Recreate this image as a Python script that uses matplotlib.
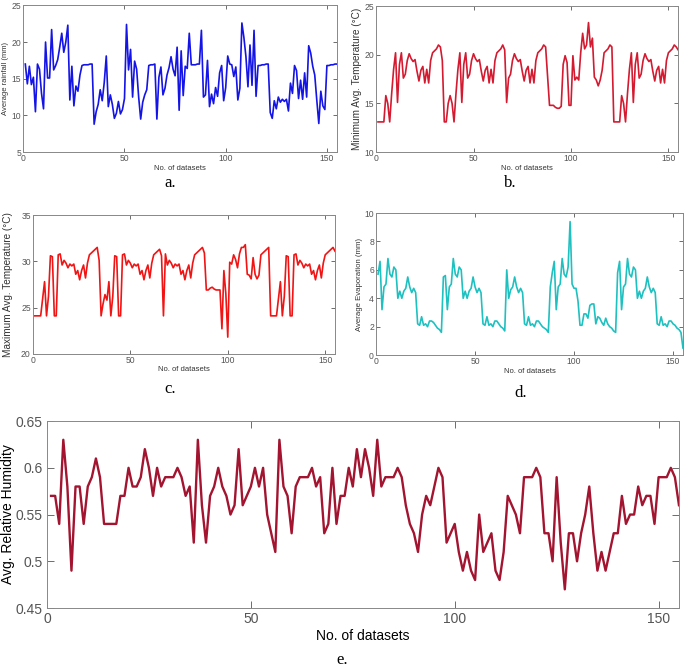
import numpy as np
import matplotlib
matplotlib.use("Agg")
import matplotlib.pyplot as plt
from matplotlib.ticker import FormatStrFormatter

plt.rcParams['font.family'] = ['Liberation Sans', 'DejaVu Sans']

rainfall = [17, 14.3, 16.7, 14.2, 15.2, 10.5, 17, 16.3, 13, 10.9,
            20, 15.1, 15.1, 21.7, 16.2, 16.8, 17.6, 19.3, 21.2, 18.6,
            20, 22.3, 12.1, 16.7, 11.3, 14, 13.3, 15.5, 16.8, 16.9,
            16.9, 16.9, 17, 17, 8.8, 10.5, 11.5, 13.5, 12, 14.5,
            18.1, 11.2, 12.8, 11.5, 9.6, 10.3, 11.9, 10.2, 10.8, 12.3,
            22.4, 16.2, 19, 12.5, 17.4, 16.3, 12.5, 9.5, 11.8, 12.8,
            13.5, 16.8, 16.9, 16.9, 17, 9.5, 15.2, 16.6, 12.8, 13.7,
            15.5, 16.5, 18, 16.3, 15.4, 19.3, 10.7, 18.8, 12.7, 16.7,
            16.4, 21.2, 16.9, 16.9, 16.9, 17, 17, 21.6, 12.5, 12.8,
            17.5, 11.2, 12.9, 11.6, 13.8, 12.6, 15.8, 16.8, 12, 13.8,
            18.1, 17, 16.9, 15.3, 16.6, 12.1, 13.7, 22.6, 20.6, 18,
            13.9, 19.6, 14.1, 21.6, 12.6, 16.8, 16.8, 16.9, 16.9, 17,
            17, 10.4, 9.6, 12, 10.9, 12.5, 11.8, 12.2, 11.9, 12.2,
            10.6, 14.4, 13, 16.8, 16.1, 12.3, 14.8, 12.2, 15.8, 12.5,
            19.5, 18.5, 16.7, 15.5, 12.1, 8.9, 13.3, 11.3, 10.8, 16.8,
            16.8, 16.9, 16.9, 17, 17]

min_temp = [13.1, 13.1, 13.1, 13.1, 15.8, 15, 13.1, 16, 18.5, 20.2,
            15.1, 19, 20.2, 17.6, 18, 19.4, 20.1, 19.6, 19.3, 19.5,
            18.3, 17.3, 18.4, 18.8, 17.1, 18.5, 17.1, 19.4, 20.2, 20.4,
            20.6, 21, 20.8, 19.4, 13.1, 13.1, 15, 15.8, 15, 13.1,
            16, 18.5, 20.2, 15.1, 19, 20.2, 17.6, 18, 19.4, 20.1,
            19.6, 19.3, 19.5, 18.3, 17.3, 18.4, 18.8, 17.1, 18.5, 17.1,
            19.4, 20.2, 20.4, 20.6, 21, 20.5, 15.1, 17.6, 18, 19.4,
            20.1, 19.6, 19.3, 19.5, 18.3, 17.3, 18.4, 18.8, 17.1, 18.5,
            17.1, 19.4, 20.2, 20.4, 20.6, 21, 20.8, 17.8, 14.8, 14.8,
            14.8, 14.6, 14.5, 14.5, 14.7, 19, 19.9, 19.2, 14.8, 14.8,
            19.9, 17.4, 17.7, 17.4, 20.2, 22.2, 20.6, 21, 23.3, 20.8,
            21.7, 17.7, 17.4, 16.8, 17.4, 18.4, 20.2, 20.4, 20.6, 21,
            20.8, 13.1, 13.1, 13.1, 13.1, 15.8, 15, 13.1, 16, 18.5,
            20.2, 15.1, 19, 20.2, 17.6, 18, 19.4, 20.1, 19.6, 19.3,
            19.5, 18.3, 17.3, 18.4, 18.8, 17.1, 18.5, 17.1, 19.4, 20.2,
            20.4, 20.6, 21, 20.8, 20.5]

max_temp = [24.1, 24.1, 24.1, 24.1, 26, 27.8, 24.1, 26.2, 30.6, 30.5,
            24.1, 24.1, 30.7, 30.8, 29.6, 30.1, 29.8, 29.3, 29.7, 29.5,
            29.7, 28.6, 29, 28, 29, 29.6, 28.2, 29.8, 30.7, 30.9,
            31.1, 31.3, 31.5, 30.1, 24.1, 25.4, 26.4, 25.8, 27.8, 24.1,
            26.2, 30.6, 30.5, 24.1, 24.1, 30.7, 30.8, 29.6, 30.1, 29.8,
            29.3, 29.7, 29.5, 29.7, 28.6, 29, 28, 29, 29.6, 28.2,
            29.8, 30.7, 30.9, 31.1, 31.3, 30.6, 24.1, 30.8, 29.6, 30.1,
            29.8, 29.3, 29.7, 29.5, 29.7, 28.6, 29, 28, 29, 29.6,
            28.2, 29.8, 30.7, 30.9, 31.1, 31.3, 31.5, 30.9, 26.9, 26.9,
            27.1, 27.2, 27, 26.9, 26.9, 26.9, 22.7, 29, 26.5, 21.8,
            29.9, 29.7, 30.7, 30.2, 29.3, 30.8, 31.5, 31.5, 31.8, 28.6,
            28.5, 28.1, 30.4, 28.6, 28.1, 28.5, 30.7, 30.9, 31.1, 31.3,
            31.5, 24.1, 24.1, 24.1, 24.1, 26, 27.8, 24.1, 26.2, 30.6,
            30.5, 24.1, 24.1, 30.7, 30.8, 29.6, 30.1, 29.8, 29.3, 29.7,
            29.5, 29.7, 28.6, 29, 28, 29, 29.6, 28.2, 29.8, 30.7,
            30.9, 31.1, 31.3, 31.5, 31.1]

evaporation = [5.7, 6.6, 3.2, 4.8, 5, 6.8, 5.7, 5.5, 6.2, 6,
               4, 4.5, 4, 4.5, 4.7, 5.5, 4.8, 4.4, 4.7, 4.4,
               2.2, 2.1, 2.7, 2.1, 2.2, 2, 2.4, 2.4, 2.3, 2.1,
               1.9, 1.8, 1.6, 5.5, 5.6, 3.2, 4.8, 5, 6.8, 5.7,
               5.5, 6.2, 6, 4, 4.5, 4, 4.5, 4.7, 5.5, 4.8,
               4.4, 4.7, 4.4, 2.2, 2.1, 2.7, 2.1, 2.2, 2, 2.4,
               2.4, 2.2, 2, 1.9, 1.7, 6, 4, 4.6, 4.8, 5.5,
               4.8, 4.4, 4.7, 4.4, 2.2, 2.1, 2.7, 2.1, 2.2, 2,
               2.4, 2.4, 2.2, 2, 1.9, 1.8, 1.6, 4.8, 5.8, 6.6,
               3.2, 4.8, 5, 6.8, 5.7, 5.5, 6.2, 9.4, 5, 4.7,
               4.7, 3.8, 2.1, 2.1, 2.9, 2.9, 2.6, 3.5, 3.6, 3.6,
               2.2, 2.7, 2.6, 2.3, 2.1, 2.6, 2.2, 2, 1.9, 1.7,
               1.6, 5.8, 6.6, 3.2, 4.8, 5, 6.8, 5.7, 5.5, 6.2,
               6, 4, 4.5, 4, 4.5, 4.7, 5.5, 4.8, 4.4, 4.7,
               4.4, 2.2, 2.1, 2.7, 2.1, 2.2, 2, 2.4, 2.4, 2.2,
               2.1, 1.9, 1.8, 1.6, 0.5]

humidity = [0.57, 0.57, 0.54, 0.63, 0.58, 0.49, 0.58, 0.58, 0.54, 0.58,
            0.59, 0.61, 0.59, 0.54, 0.54, 0.54, 0.54, 0.57, 0.57, 0.60,
            0.58, 0.58, 0.59, 0.62, 0.60, 0.57, 0.60, 0.58, 0.59, 0.59,
            0.59, 0.60, 0.59, 0.57, 0.58, 0.52, 0.63, 0.56, 0.52, 0.57,
            0.58, 0.60, 0.58, 0.57, 0.55, 0.56, 0.62, 0.56, 0.57, 0.58,
            0.60, 0.58, 0.60, 0.55, 0.53, 0.51, 0.63, 0.58, 0.57, 0.53,
            0.58, 0.59, 0.59, 0.59, 0.60, 0.58, 0.59, 0.53, 0.54, 0.60,
            0.54, 0.57, 0.57, 0.60, 0.58, 0.62, 0.59, 0.62, 0.60, 0.57,
            0.63, 0.58, 0.59, 0.59, 0.59, 0.60, 0.59, 0.56, 0.54, 0.53,
            0.51, 0.55, 0.57, 0.56, 0.58, 0.60, 0.59, 0.52, 0.53, 0.54,
            0.51, 0.49, 0.51, 0.49, 0.48, 0.55, 0.51, 0.52, 0.53, 0.49,
            0.48, 0.51, 0.57, 0.56, 0.55, 0.53, 0.59, 0.59, 0.59, 0.60,
            0.59, 0.53, 0.53, 0.50, 0.59, 0.52, 0.47, 0.53, 0.53, 0.50,
            0.53, 0.55, 0.58, 0.53, 0.49, 0.51, 0.49, 0.51, 0.53, 0.53,
            0.57, 0.54, 0.55, 0.55, 0.58, 0.56, 0.57, 0.57, 0.54, 0.59,
            0.59, 0.59, 0.60, 0.59, 0.56]

x_ticks = [0, 50, 100, 150]


def style_axes(ax, fs):
    ax.tick_params(direction='in', top=True, right=True, labelsize=fs,
                   colors='#555555', length=3, width=0.6, pad=1.5)
    for s in ax.spines.values():
        s.set_color('#888888')
        s.set_linewidth(0.7)


def small_panel(rect, y, color, ylim, yticks, ylabel, ylab_fs, ylab_x,
                letter, letter_xy):
    ax = fig.add_axes(rect)
    x = np.arange(1, len(y) + 1)
    ax.plot(x, y, color=color, lw=1.2)
    ax.set_xlim(0, 155)
    ax.set_ylim(*ylim)
    ax.set_xticks(x_ticks)
    ax.set_yticks(yticks)
    style_axes(ax, 6.2)
    ax.set_xlabel('No. of datasets', fontsize=5.5, labelpad=1, color='#333333')
    ax.set_ylabel(ylabel, fontsize=ylab_fs, color='#333333')
    ax.yaxis.set_label_coords(ylab_x, 0.5)
    fig.text(letter_xy[0], letter_xy[1], letter, fontsize=12,
             family='Liberation Serif', ha='center', va='center')
    return ax


fig = plt.figure(figsize=(6.85, 6.70), dpi=100)

small_panel([0.034, 0.773, 0.458, 0.219], rainfall, '#1414e6', (5, 25),
            [5, 10, 15, 20, 25], 'Average rainfall (mm)', 5.5, -0.045,
            'a.', (0.248, 0.727))
small_panel([0.549, 0.773, 0.441, 0.218], min_temp, '#d41a30', (10, 25),
            [10, 15, 20, 25], 'Minimum Avg. Temperature (°C)', 7.2, -0.048,
            'b.', (0.745, 0.727))
small_panel([0.048, 0.472, 0.441, 0.207], max_temp, '#f01414', (20, 35),
            [20, 25, 30, 35], 'Maximum Avg. Temperature (°C)', 7.2, -0.066,
            'c.', (0.248, 0.420))
small_panel([0.549, 0.470, 0.448, 0.212], evaporation, '#1fc0c0', (0, 10),
            [0, 2, 4, 6, 8, 10], 'Average Evaporation (mm)', 5.6, -0.042,
            'd.', (0.76, 0.413))

# panel e
ax = fig.add_axes([0.0686, 0.0925, 0.9226, 0.279])
x = np.arange(1, len(humidity) + 1)
ax.plot(x, humidity, color='#a2142f', lw=1.7)
ax.set_xlim(0, 155)
ax.set_ylim(0.45, 0.65)
ax.set_xticks(x_ticks)
ax.set_yticks([0.45, 0.5, 0.55, 0.6, 0.65])
ax.yaxis.set_major_formatter(FormatStrFormatter('%g'))
style_axes(ax, 10)
ax.tick_params(length=5, pad=3)
ax.set_xlabel('No. of datasets', fontsize=10, labelpad=2)
ax.set_ylabel('Avg. Relative Humidity', fontsize=10)
ax.yaxis.set_label_coords(-0.051, 0.5)
fig.text(0.5, 0.015, 'e.', fontsize=12, family='Liberation Serif',
         ha='center', va='center')

fig.savefig('out.png', dpi=100)
